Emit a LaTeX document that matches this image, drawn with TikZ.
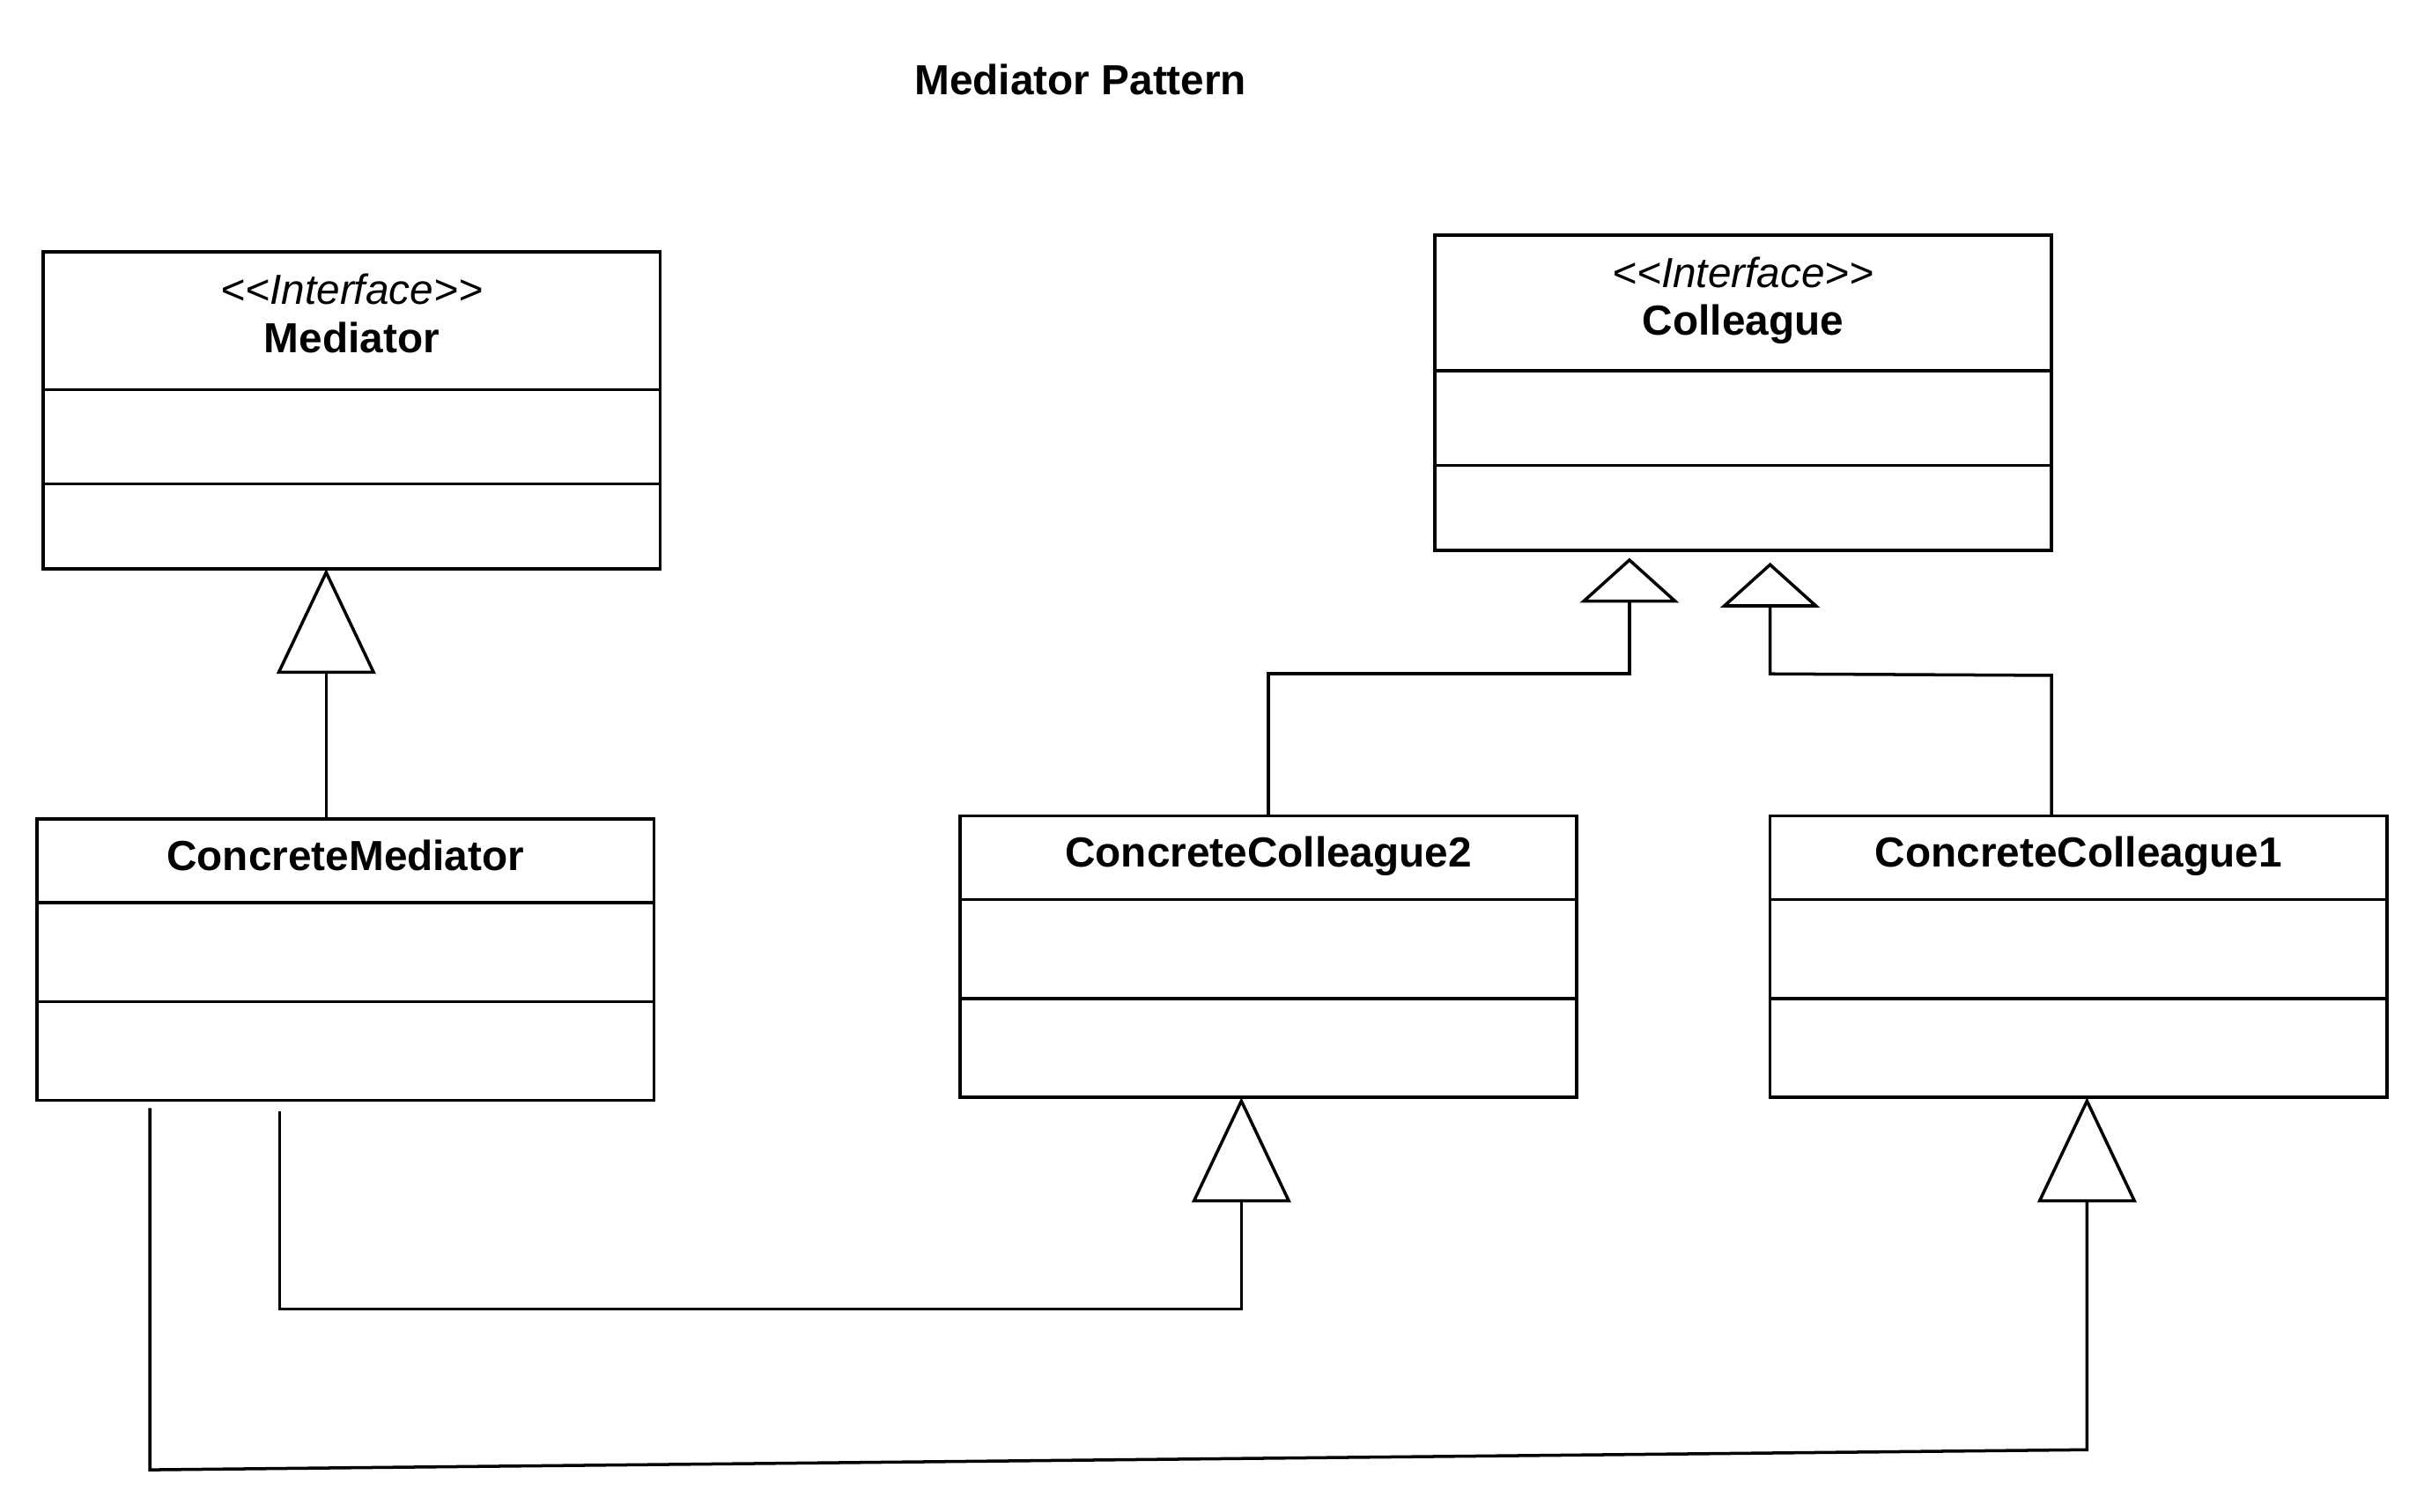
\documentclass[tikz,border=0pt]{standalone}
\usepackage{fontspec}
\setmainfont{Liberation Sans}
\usetikzlibrary{arrows.meta,positioning}
\tikzset{
  part/.style={draw, line width=1pt, inner sep=0pt, outer sep=0pt, minimum width=199.5pt},
  lbl/.style={inner sep=0pt, anchor=base, font=\fontsize{13.6pt}{16pt}\selectfont},
  stereo/.style={lbl, font=\fontsize{13.6pt}{16pt}\selectfont\itshape},
  cname/.style={lbl, font=\fontsize{13.6pt}{16pt}\selectfont\bfseries},
  gen/.style={line width=1pt, -{Triangle[open, length=34pt, width=32pt]}},
  gensmall/.style={line width=1pt, -{Triangle[open, length=14.5pt, width=32pt]}},
}
\begin{document}
\begin{tikzpicture}[x=0.5pt, y=-0.5pt, line join=miter]
	\useasboundingbox (0,0) rectangle (1568,978);
	% title
	\node[cname] (title) at (699,61.5) {Mediator Pattern};
	% Mediator
	\node[part, minimum height=44.5pt, anchor=north west] (mhead) at (28,163) {};
	\node[part, minimum height=30.5pt, below=0pt of mhead] (mattr) {};
	\node[part, minimum height=27.5pt, below=0pt of mattr] (mop) {};
	\node[stereo] (mst) at (mhead.north |- 0,197) {<\kern0pt<Interface>\kern0pt>};
	\node[cname] (mname) at (mhead.north |- 0,228) {Mediator};
	% Colleague
	\node[part, minimum height=44pt, anchor=north west] (chead) at (928,152) {};
	\node[part, minimum height=30.5pt, below=0pt of chead] (cattr) {};
	\node[part, minimum height=27.5pt, below=0pt of cattr] (cop) {};
	\node[stereo] (cst) at (chead.north |- 0,186) {<\kern0pt<Interface>\kern0pt>};
	\node[cname] (cname) at (chead.north |- 0,217) {Colleague};
	% ConcreteMediator
	\node[part, minimum height=27pt, anchor=north west] (cmhead) at (24,530) {};
	\node[part, minimum height=32pt, below=0pt of cmhead] (cmattr) {};
	\node[part, minimum height=32pt, below=0pt of cmattr] (cmop) {};
	\node[cname] (cmname) at (cmhead.north |- 0,563) {ConcreteMediator};
	% ConcreteColleague2
	\node[part, minimum height=27pt, anchor=north west] (cc2head) at (621,528) {};
	\node[part, minimum height=32pt, below=0pt of cc2head] (cc2attr) {};
	\node[part, minimum height=32pt, below=0pt of cc2attr] (cc2op) {};
	\node[cname] (cc2name) at (cc2head.north |- 0,561) {ConcreteColleague2};
	% ConcreteColleague1
	\node[part, minimum height=27pt, anchor=north west] (cc1head) at (1145,528) {};
	\node[part, minimum height=32pt, below=0pt of cc1head] (cc1attr) {};
	\node[part, minimum height=32pt, below=0pt of cc1attr] (cc1op) {};
	\node[cname] (cc1name) at (cc1head.north |- 0,561) {ConcreteColleague1};
	% generalisations
	\coordinate (km) at (211,0);
	\draw[gen] (km |- cmhead.north) -- (km |- mop.south);
	\coordinate (kl) at (1054,436);
	\draw[gensmall, shorten >=2.5pt] (cc2head.north) -- (kl -| cc2head.north) -- (kl) -- (kl |- cop.south);
	\coordinate (kr1) at (1145,436);
	\coordinate (kr2) at (1327,437);
	\draw[gensmall, shorten >=4pt] (kr2 |- cc1head.north) -- (kr2) -- (kr1) -- (kr1 |- cop.south);
	\coordinate (kb1) at (181,847);
	\coordinate (kb2) at (803,847);
	\draw[gen, shorten <=3.5pt] (kb1 |- cmop.south) -- (kb1) -- (kb2) -- (kb2 |- cc2op.south);
	\coordinate (kb3) at (97,951);
	\coordinate (kb4) at (1350,938);
	\draw[gen, shorten <=2.5pt] (kb3 |- cmop.south) -- (kb3) -- (kb4) -- (kb4 |- cc1op.south);
\end{tikzpicture}
\end{document}
